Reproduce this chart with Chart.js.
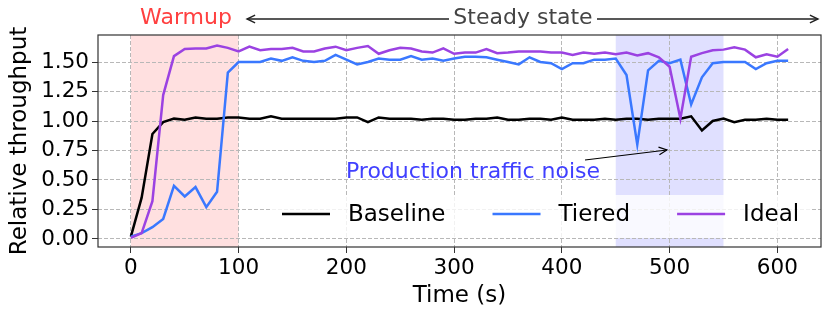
<!DOCTYPE html>
<html>
<head>
<meta charset="utf-8">
<script src="https://cdn.jsdelivr.net/npm/chart.js@4/dist/chart.umd.min.js"></script>
<style>
  body { margin: 0; background: #fff; }
  #myChart { display: block; }
</style>
</head>
<body>
<canvas id="myChart" width="830" height="317"></canvas>
<script>
// data
var times = [0, 10, 20, 30, 40, 50, 60, 70, 80, 90,
  100, 110, 120, 130, 140, 150, 160, 170, 180, 190,
  200, 210, 220, 230, 240, 250, 260, 270, 280, 290,
  300, 310, 320, 330, 340, 350, 360, 370, 380, 390,
  400, 410, 420, 430, 440, 450, 460, 470, 480, 490,
  500, 510, 520, 530, 540, 550, 560, 570, 580, 590,
  600, 610];

var baseline = [0.02, 0.35, 0.89, 0.99, 1.02, 1.01, 1.03, 1.02, 1.02, 1.03,
  1.03, 1.02, 1.02, 1.04, 1.02, 1.02, 1.02, 1.02, 1.02, 1.02,
  1.03, 1.03, 0.99, 1.03, 1.02, 1.02, 1.02, 1.01, 1.02, 1.02,
  1.01, 1.01, 1.02, 1.02, 1.03, 1.01, 1.01, 1.02, 1.02, 1.01,
  1.03, 1.01, 1.01, 1.01, 1.02, 1.01, 1.02, 1.02, 1.01, 1.02,
  1.02, 1.02, 1.04, 0.92, 1.00, 1.02, 0.99, 1.01, 1.01, 1.02,
  1.01, 1.01];

var tiered = [0.02, 0.05, 0.10, 0.17, 0.45, 0.36, 0.44, 0.27, 0.40, 1.41,
  1.50, 1.50, 1.50, 1.53, 1.51, 1.54, 1.51, 1.50, 1.51, 1.56,
  1.52, 1.48, 1.50, 1.53, 1.52, 1.52, 1.55, 1.52, 1.53, 1.51,
  1.53, 1.545, 1.545, 1.54, 1.52, 1.50, 1.48, 1.54, 1.50, 1.49,
  1.44, 1.49, 1.49, 1.52, 1.52, 1.53, 1.39, 0.80, 1.43, 1.51,
  1.49, 1.52, 1.14, 1.37, 1.49, 1.50, 1.50, 1.50, 1.44, 1.49,
  1.51, 1.51];

var ideal = [0.01, 0.05, 0.32, 1.22, 1.55, 1.61, 1.615, 1.615, 1.64, 1.62,
  1.59, 1.63, 1.60, 1.61, 1.61, 1.62, 1.59, 1.59, 1.615, 1.63,
  1.60, 1.62, 1.635, 1.57, 1.60, 1.62, 1.615, 1.59, 1.58, 1.615,
  1.57, 1.58, 1.58, 1.61, 1.575, 1.58, 1.59, 1.59, 1.59, 1.58,
  1.58, 1.56, 1.58, 1.57, 1.58, 1.565, 1.58, 1.555, 1.575, 1.54,
  1.46, 1.02, 1.545, 1.575, 1.60, 1.605, 1.625, 1.605, 1.54, 1.565,
  1.545, 1.61];

var xTicks = [0, 100, 200, 300, 400, 500, 600];
var yTicks = [0, 0.25, 0.5, 0.75, 1.0, 1.25, 1.5];

var warmupSpan = [0, 100];
var noiseSpan = [450, 550];

function pts(ys) {
  return times.map(function(t, i) { return { x: t, y: ys[i] }; });
}

var FONT = "'DejaVu Sans', sans-serif";

// draw an open arrow head at (x2,y2) coming from (x1,y1)
function arrowHead(ctx, x1, y1, x2, y2, size) {
  var a = Math.atan2(y2 - y1, x2 - x1);
  ctx.beginPath();
  ctx.moveTo(x2 - size * Math.cos(a - 0.45), y2 - size * Math.sin(a - 0.45));
  ctx.lineTo(x2, y2);
  ctx.lineTo(x2 - size * Math.cos(a + 0.45), y2 - size * Math.sin(a + 0.45));
  ctx.stroke();
}

// shaded spans behind grid
var spansPlugin = {
  id: 'spans',
  beforeDraw: function(chart) {
    var ctx = chart.ctx, area = chart.chartArea, xs = chart.scales.x;
    ctx.save();
    ctx.fillStyle = 'rgba(255,0,0,0.12)';
    var a = xs.getPixelForValue(warmupSpan[0]), b = xs.getPixelForValue(warmupSpan[1]);
    ctx.fillRect(a, area.top, b - a, area.bottom - area.top);
    ctx.fillStyle = 'rgba(0,0,255,0.12)';
    a = xs.getPixelForValue(noiseSpan[0]); b = xs.getPixelForValue(noiseSpan[1]);
    ctx.fillRect(a, area.top, b - a, area.bottom - area.top);
    ctx.restore();
  }
};

// legend, frame and annotations on top
var overlayPlugin = {
  id: 'overlay',
  afterDatasetsDraw: function(chart) {
    var ctx = chart.ctx, area = chart.chartArea;
    ctx.save();

    // legend box
    ctx.fillStyle = 'rgba(255,255,255,0.8)';
    ctx.fillRect(270, 195, area.right - 9 - 270, 43);
    ctx.font = '23px ' + FONT;
    ctx.textBaseline = 'middle';
    var lx = 282, ly = 214;
    chart.data.datasets.forEach(function(ds) {
      ctx.strokeStyle = ds.borderColor;
      ctx.lineWidth = 2.5;
      ctx.beginPath();
      ctx.moveTo(lx, ly);
      ctx.lineTo(lx + 48, ly);
      ctx.stroke();
      ctx.fillStyle = '#000';
      ctx.fillText(ds.label, lx + 66, ly + 1);
      lx += 66 + ctx.measureText(ds.label).width + 47;
    });

    // frame
    ctx.strokeStyle = '#333';
    ctx.lineWidth = 1.2;
    ctx.strokeRect(area.left, area.top, area.right - area.left, area.bottom - area.top);

    // warmup label
    ctx.font = '22px ' + FONT;
    ctx.textAlign = 'center';
    ctx.fillStyle = '#ff4040';
    ctx.fillText('Warmup', 186, 18);

    // steady state arrow
    ctx.strokeStyle = '#222';
    ctx.lineWidth = 1.4;
    ctx.beginPath();
    ctx.moveTo(247, 19); ctx.lineTo(449, 19);
    ctx.moveTo(597, 19); ctx.lineTo(818, 19);
    ctx.stroke();
    arrowHead(ctx, 260, 19, 247, 19, 9);
    arrowHead(ctx, 805, 19, 818, 19, 9);
    ctx.fillStyle = '#444';
    ctx.fillText('Steady state', 523, 18);

    // production noise note
    ctx.fillStyle = '#4040ff';
    ctx.fillText('Production traffic noise', 473, 172);
    ctx.strokeStyle = '#000';
    ctx.lineWidth = 1.2;
    ctx.beginPath();
    ctx.moveTo(585, 160); ctx.lineTo(667, 150);
    ctx.stroke();
    arrowHead(ctx, 585, 160, 667, 150, 9);

    ctx.restore();
  }
};

var ctx = document.getElementById('myChart').getContext('2d');
var myChart = new Chart(ctx, {
  type: 'line',
  data: {
    datasets: [{
        data: pts(baseline),
        label: 'Baseline',
        borderColor: '#000000',
        order: 3
      }, {
        data: pts(tiered),
        label: 'Tiered',
        borderColor: '#3a78ff',
        order: 2
      }, {
        data: pts(ideal),
        label: 'Ideal',
        borderColor: '#9b42e2',
        order: 1
      }
    ]
  },
  options: {
    responsive: false,
    animation: false,
    devicePixelRatio: 1,
    layout: { padding: { top: 35, right: 9, left: 0, bottom: 0 } },
    elements: {
      point: { radius: 0 },
      line: { borderWidth: 2.5, tension: 0, fill: false }
    },
    plugins: {
      legend: { display: false },
      tooltip: { enabled: false }
    },
    scales: {
      x: {
        type: 'linear',
        min: -30.5,
        max: 640.5,
        afterBuildTicks: function(axis) {
          axis.ticks = xTicks.map(function(v) { return { value: v }; });
        },
        afterFit: function(axis) { axis.height = 70; },
        ticks: {
          font: { family: FONT, size: 21.5 },
          color: '#000',
          padding: 3,
          maxRotation: 0
        },
        grid: {
          color: '#b8b8b8',
          lineWidth: 1,
          tickColor: '#333',
          tickLength: 6,
          tickBorderDash: []
        },
        border: { display: false, dash: [4, 2] },
        title: {
          display: true,
          text: 'Time (s)',
          font: { family: FONT, size: 23 },
          color: '#000',
          padding: { top: 0, bottom: 7 }
        }
      },
      y: {
        min: -0.068,
        max: 1.729,
        afterBuildTicks: function(axis) {
          axis.ticks = yTicks.map(function(v) { return { value: v }; });
        },
        afterFit: function(axis) { axis.width = 98; },
        ticks: {
          font: { family: FONT, size: 21.5 },
          color: '#000',
          padding: 3,
          callback: function(v) { return Number(v).toFixed(2); }
        },
        grid: {
          color: '#b8b8b8',
          lineWidth: 1,
          tickColor: '#333',
          tickLength: 6,
          tickBorderDash: []
        },
        border: { display: false, dash: [4, 2] },
        title: {
          display: true,
          text: 'Relative throughput',
          font: { family: FONT, size: 23 },
          color: '#000',
          padding: { top: 6, bottom: 0 }
        }
      }
    }
  },
  plugins: [spansPlugin, overlayPlugin]
});
</script>
</body>
</html>
